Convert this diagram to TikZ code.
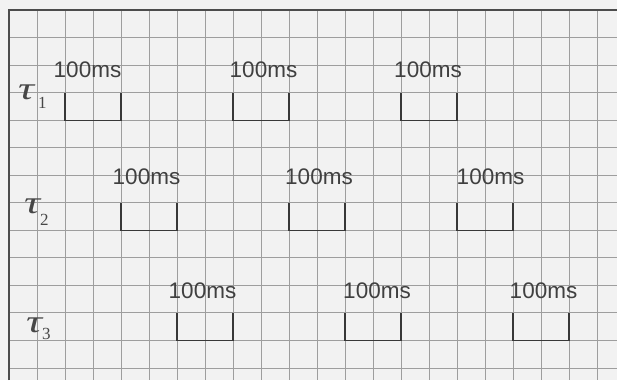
\documentclass[tikz,border=0pt]{standalone}
\usepackage{fontspec}
\setmainfont{Liberation Sans}
\newfontfamily\serifgreek{Liberation Serif}
\begin{document}
\begin{tikzpicture}[x=1pt,y=-1pt,
  gridline/.style={draw=black!38,line width=0.9pt},
  borderline/.style={draw=black!70,line width=1.8pt},
  pulse/.style={draw=black!78,line width=1.3pt},
  mslabel/.style={anchor=base,inner sep=0pt,font=\fontsize{22.5}{23}\selectfont,text=black!75},
  taulabel/.style={anchor=north west,inner sep=0pt,text=black!72,font=\fontsize{32}{32}\serifgreek\itshape},
  sublabel/.style={anchor=south west,inner sep=0pt,text=black!72,font=\fontsize{17}{17}\serifgreek}]
\useasboundingbox (0,0) rectangle (617,380);
\fill[black!5] (0,0) rectangle (617,380);
% grid
\foreach \k in {1,...,21} \draw[gridline] ({9+28*\k},10) -- ({9+28*\k},380);
\foreach \k in {1,...,13} \draw[gridline] (9,{10+27.54*\k}) -- (617,{10+27.54*\k});
\draw[borderline] (9,380) -- (9,10) -- (617,10);
% tau labels
\node[taulabel] (t1) at (18,85) {\scalebox{1.4}[1]{τ}};
\node[sublabel] (s1) at (38,109) {1};
\node[taulabel] (t2) at (24,199) {\scalebox{1.4}[1]{τ}};
\node[sublabel] (s2) at (40,226) {2};
\node[taulabel] (t3) at (26,318) {\scalebox{1.4}[1]{τ}};
\node[sublabel] (s3) at (42,340) {3};
% pulses
\foreach \c/\r/\n/\dx/\dy in {2/3/a/-5.5/15,8/3/b/2.5/15,14/3/c/-1/15,4/7/d/-2.5/18,10/7/e/2/18,16/7/f/5.5/18,6/11/g/-2.5/14,12/11/h/4/14,18/11/i/2.5/14}{
  \draw[pulse] ({9+28*\c},{10+27.54*\r}) -- ({9+28*\c},{10+27.54*(\r+1)}) -- ({9+28*(\c+2)},{10+27.54*(\r+1)}) -- ({9+28*(\c+2)},{10+27.54*\r});
  \node[mslabel] (ms\n) at ({9+28*(\c+1)+\dx},{10+27.54*\r-\dy}) {100ms};
}
\end{tikzpicture}
\end{document}
